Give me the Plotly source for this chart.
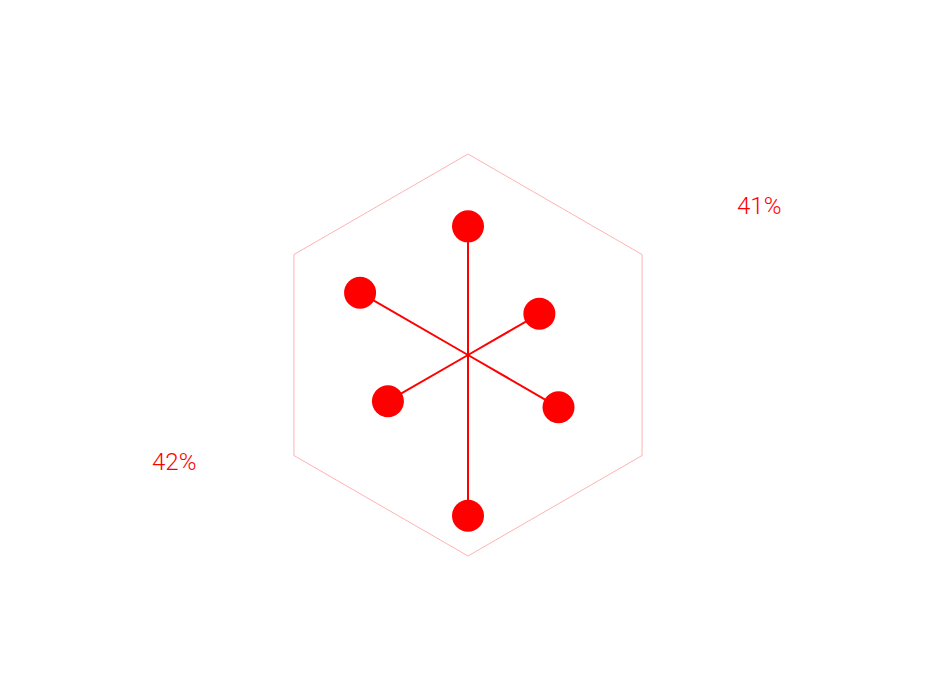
import plotly.graph_objects as go

categories = ["A", "B", "C", "D", "E", "F"]
values = [64, 41, 52, 80, 46, 62]
label_texts = ["41%", "42%"]
label_x = [759, 174]
label_y = [206, 462]

RED = "#ff0000"
W, H = 935, 691

fig = go.Figure()

# spokes from the centre to each value
for c, v in zip(categories, values):
    fig.add_trace(go.Scatterpolar(
        r=[0, v], theta=[c, c], mode="lines",
        line=dict(color=RED, width=2), hoverinfo="skip", showlegend=False,
    ))

fig.add_trace(go.Scatterpolar(
    r=values, theta=categories, mode="markers",
    marker=dict(color=RED, size=32, line=dict(width=0)),
    showlegend=False,
))

cx, cy, R = 468, 355, 201
fig.update_layout(
    width=W, height=H,
    margin=dict(l=0, r=0, t=0, b=0),
    paper_bgcolor="white", plot_bgcolor="white",
    polar=dict(
        domain=dict(x=[(cx - R) / W, (cx + R) / W], y=[1 - (cy + R) / H, 1 - (cy - R) / H]),
        gridshape="linear",
        bgcolor="rgba(0,0,0,0)",
        radialaxis=dict(range=[0, 100], visible=False),
        angularaxis=dict(
            direction="clockwise", rotation=90,
            showline=True, linecolor="rgba(255,0,0,0.3)", linewidth=1,
            showgrid=False, showticklabels=False, ticks="",
        ),
    ),
    font=dict(family="Roboto", color=RED),
)

for t, x, y in zip(label_texts, label_x, label_y):
    fig.add_annotation(
        text=t, x=x / W, y=1 - y / H, xref="paper", yref="paper",
        showarrow=False, xanchor="center", yanchor="middle",
        font=dict(family="Roboto", size=24, color=RED, weight=300),
    )

fig.write_html("out.html")
